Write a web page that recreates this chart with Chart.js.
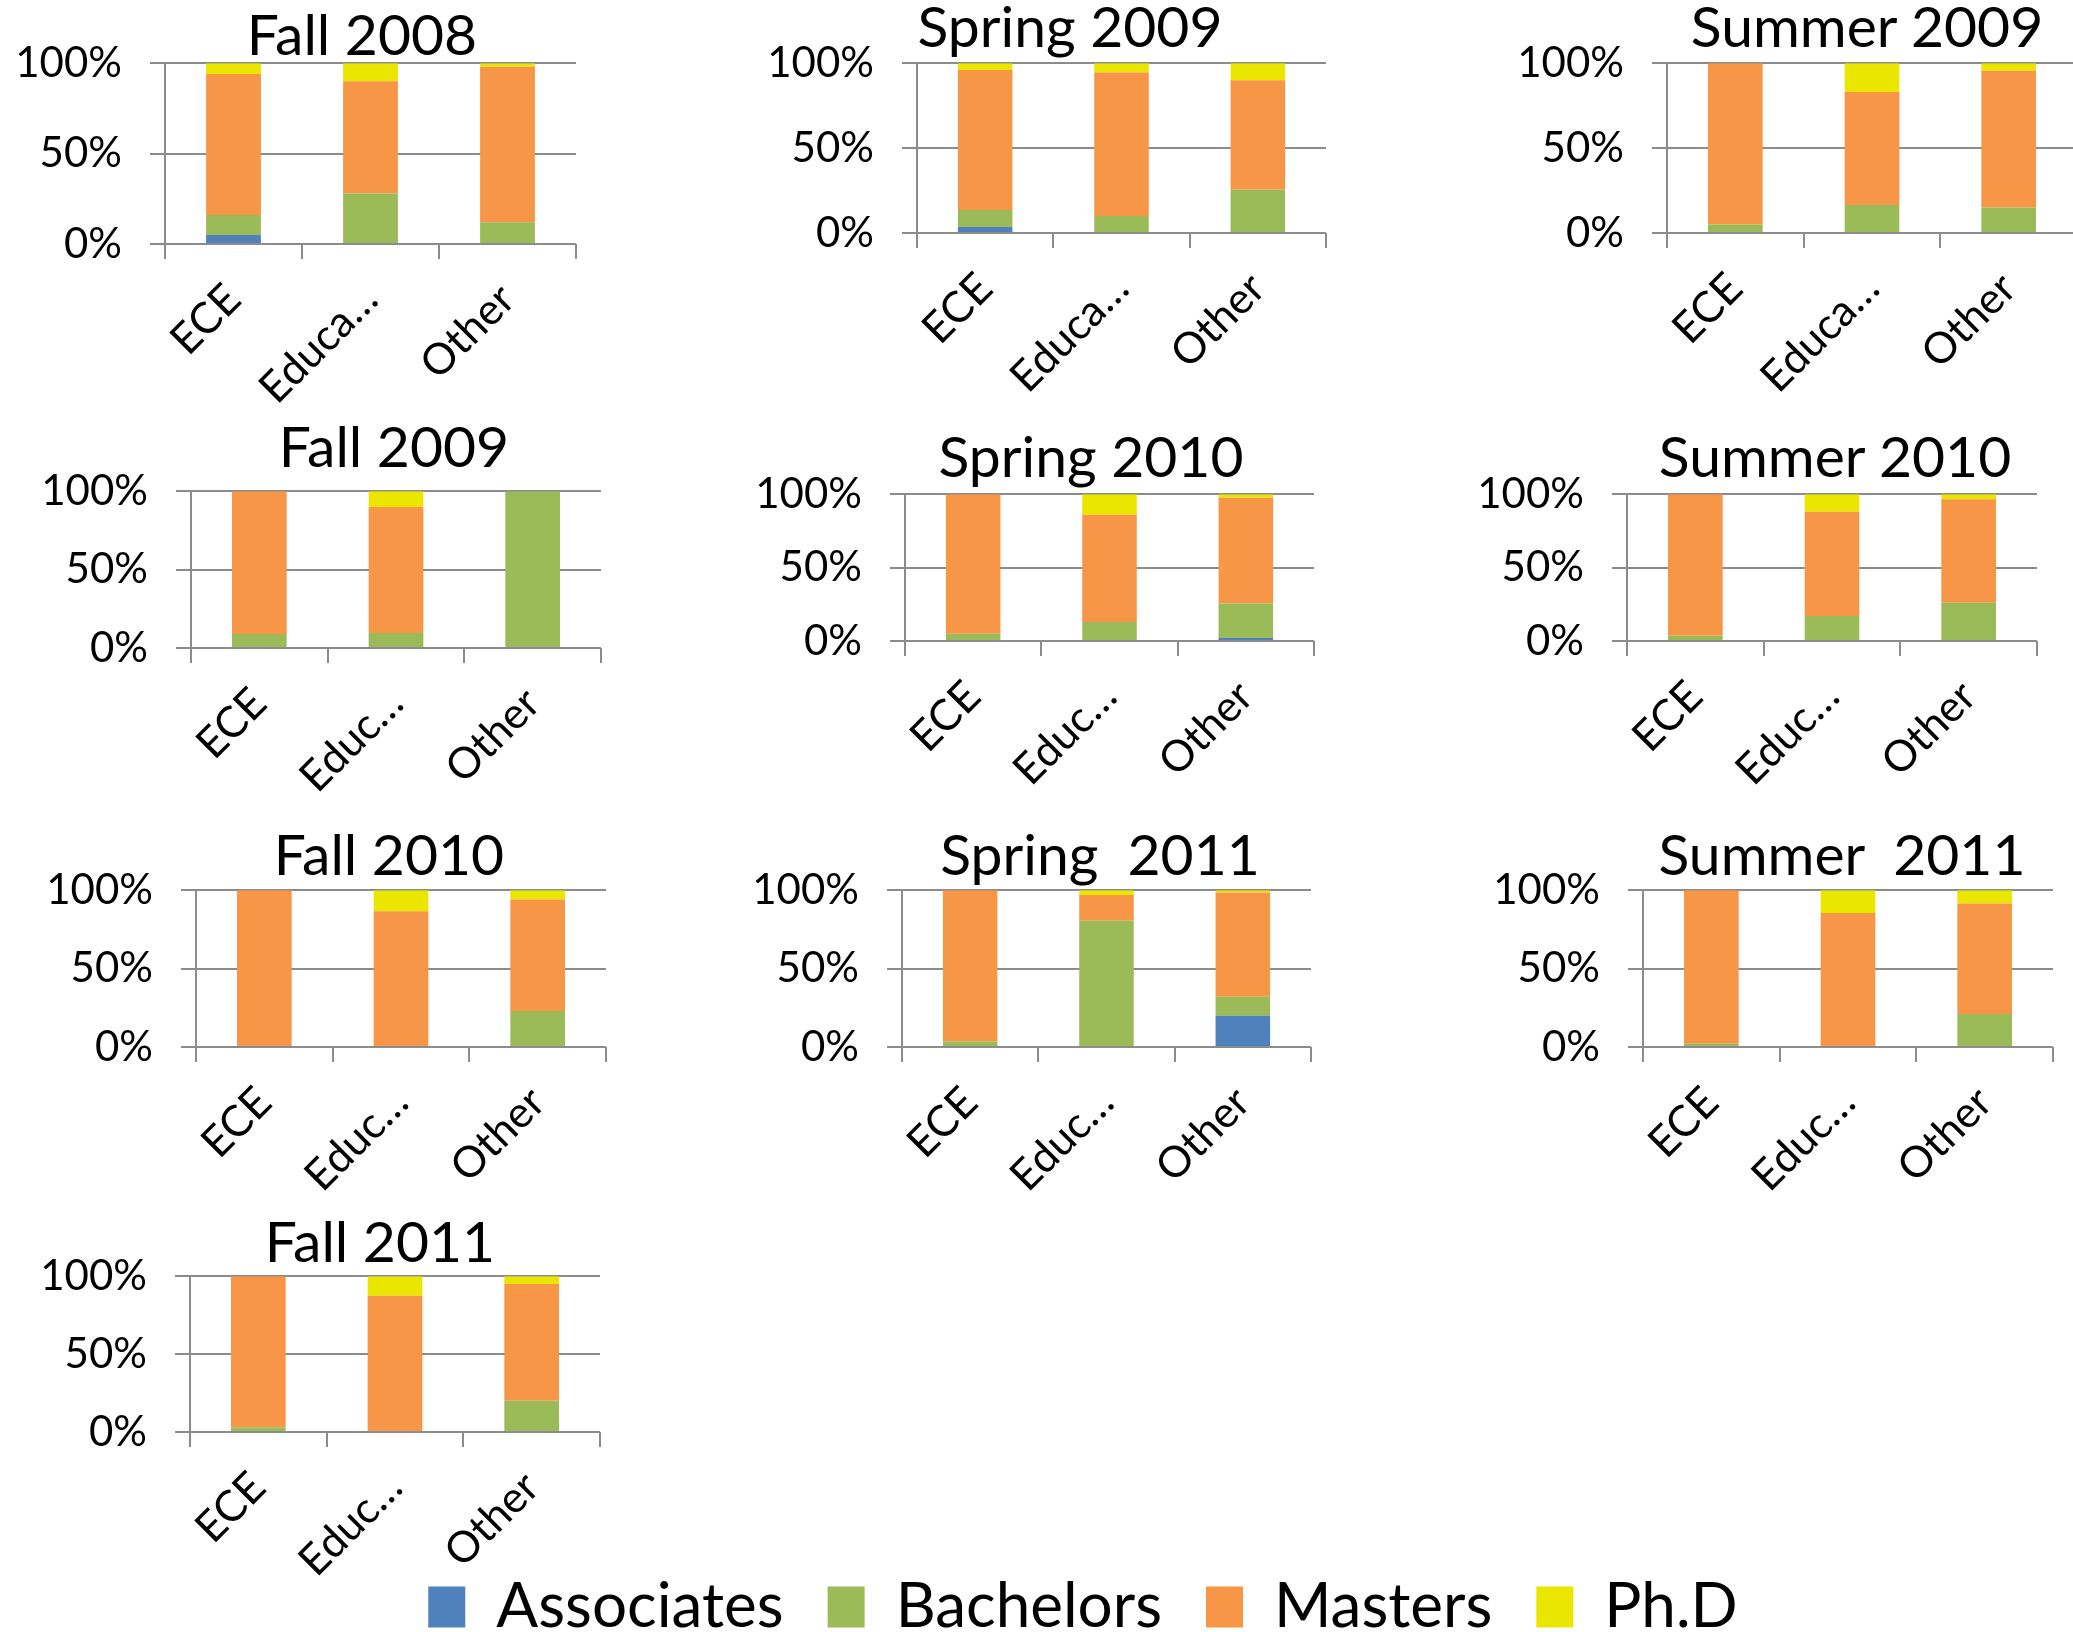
<!DOCTYPE html>
<html>
<head>
<meta charset="utf-8">
<script src="https://cdn.jsdelivr.net/npm/chart.js@4.4.1/dist/chart.umd.min.js"></script>
<style>
body { margin:0; width:2073px; height:1632px; background:#fff; overflow:hidden; position:relative; font-family:Lato, sans-serif; }
canvas { position:absolute; }
.title { position:absolute; width:700px; text-align:center; font-size:57px; line-height:1; color:#000; white-space:pre; }
</style>
</head>
<body>
<script>
// data (percent of each group)
const terms = ['Fall 2008', 'Spring 2009', 'Summer 2009', 'Fall 2009', 'Spring 2010',
  'Summer 2010', 'Fall 2010', 'Spring  2011', 'Summer  2011', 'Fall 2011'];
const categories = ['ECE', 'Education', 'Other'];
const eduTick = ['Educa…', 'Educa…', 'Educa…', 'Educ…', 'Educ…', 'Educ…', 'Educ…', 'Educ…', 'Educ…', 'Educ…'];
const seriesNames = ['Associates', 'Bachelors', 'Masters', 'Ph.D'];
const associates = [[5,0,0],[3.5,0,0],[0,0,0],[0,0,0],[0,0,2],[0,0,0],[0,0,0],[0,0,20],[0,0,0],[0,0,0]];
const bachelors = [[11,28,12],[10,10,25.5],[5,16.5,15],[9,9.5,100],[5,13,23.5],[3.5,17,26],[0,0,23],[3.5,80.5,12],[2,0,21],[3,0,20]];
const masters = [[78,62,86],[82.5,84.5,64.5],[95,66.5,80.5],[91,80.5,0],[95,73,72],[96.5,71,70.5],[100,86.5,71],[96.5,16.5,66.5],[98,85.5,70.5],[97,87.5,75]];
const phd = [[6,10,2],[4,5.5,10],[0,17,4.5],[0,10,0],[0,14,2.5],[0,12,3.5],[0,13.5,6],[0,3,1.5],[0,14.5,8.5],[0,12.5,5]];
const yTicks = [0, 50, 100];

const colors = ['#4F81BD', '#9BBB59', '#F79646', '#EAE600'];
const gridColor = '#8c8c8c';

// plot box of each small chart on the page: left, right, top(100%), bottom(0%), title centre, title baseline
const panels = [
  {l:165, r:576, t:63, b:244, cx:362, bl:55},
  {l:917, r:1326, t:63, b:233, cx:1070, bl:47},
  {l:1667, r:2077, t:63, b:233, cx:1867, bl:47},
  {l:191, r:601, t:491, b:648, cx:394, bl:467},
  {l:905, r:1314, t:494, b:641, cx:1091, bl:477},
  {l:1627, r:2037, t:494, b:641, cx:1835, bl:477},
  {l:196, r:606, t:890, b:1047, cx:389, bl:875},
  {l:902, r:1311, t:890, b:1047, cx:1100, bl:875},
  {l:1643, r:2053, t:890, b:1047, cx:1842, bl:875},
  {l:190, r:600, t:1276, b:1432, cx:380, bl:1262}
];

const Y_W = 150, PAD_R = 6, X_H = 190;
Chart.defaults.font.family = 'Lato';
Chart.defaults.color = '#000';

terms.forEach(function(term, i){
  const p = panels[i];
  const title = document.createElement('div');
  title.className = 'title';
  title.textContent = term;
  title.style.left = (p.cx - 350) + 'px';
  title.style.top = (p.bl - 50.5) + 'px';
  document.body.appendChild(title);

  const cv = document.createElement('canvas');
  const w = Y_W + (p.r - p.l) + PAD_R;
  let h = 30 + (p.b - p.t) + X_H;
  cv.width = w; cv.height = h;
  cv.style.left = (p.l - Y_W) + 'px';
  document.body.appendChild(cv);

  const series = [associates, bachelors, masters, phd];
  const tickLabels = ['ECE', eduTick[i], 'Other'];

  const chart = new Chart(cv, {
    type: 'bar',
    data: {
      labels: categories,
      datasets: series.map((s, k) => ({
        label: seriesNames[k],
        data: s[i],
        backgroundColor: colors[k],
        borderWidth: 0,
        barPercentage: 0.4,
        categoryPercentage: 1
      }))
    },
    options: {
      responsive: false,
      maintainAspectRatio: false,
      animation: false,
      layout: { padding: { top: 0, right: PAD_R, left: 0, bottom: 0 } },
      plugins: { legend: { display: false }, tooltip: { enabled: false } },
      scales: {
        x: {
          stacked: true,
          afterFit: s => { s.height = X_H; },
          grid: { offset: true, drawOnChartArea: false, tickLength: 15, color: gridColor, lineWidth: 2 },
          border: { display: false },
          ticks: {
            autoSkip: false, maxRotation: 45, minRotation: 45, padding: 15,
            font: { size: 43 },
            callback: (v, idx) => tickLabels[idx]
          }
        },
        y: {
          stacked: true, min: 0, max: 100,
          afterFit: s => { s.width = Y_W; },
          afterBuildTicks: s => { s.ticks = yTicks.map(v => ({ value: v })); },
          grid: { color: gridColor, lineWidth: 2, tickLength: 15 },
          border: { color: gridColor, width: 2 },
          ticks: { padding: 28, font: { size: 42 }, callback: v => v + '%' }
        }
      }
    }
  });

  // line the plot area up with the picture
  for (let n = 0; n < 3; n++) {
    const ca = chart.chartArea;
    h = Math.round(h + (p.b - p.t) - (ca.bottom - ca.top));
    chart.resize(w, h);
  }
  cv.style.top = (p.t - chart.chartArea.top) + 'px';
});

// shared legend
const lg = document.createElement('canvas');
lg.width = 2150; lg.height = 300;
lg.style.left = '8px'; lg.style.top = '1532px';
document.body.appendChild(lg);
new Chart(lg, {
  type: 'bar',
  data: {
    labels: [''],
    datasets: seriesNames.map((n, k) => ({ label: n, data: [], backgroundColor: colors[k] }))
  },
  options: {
    responsive: false,
    maintainAspectRatio: false,
    animation: false,
    layout: { padding: 0 },
    scales: { x: { display: false }, y: { display: false } },
    plugins: {
      tooltip: { enabled: false },
      legend: {
        position: 'top',
        onClick: null,
        labels: { font: { size: 62 }, boxWidth: 37, boxHeight: 41, padding: 44, color: '#000' }
      }
    }
  }
});
</script>
</body>
</html>
